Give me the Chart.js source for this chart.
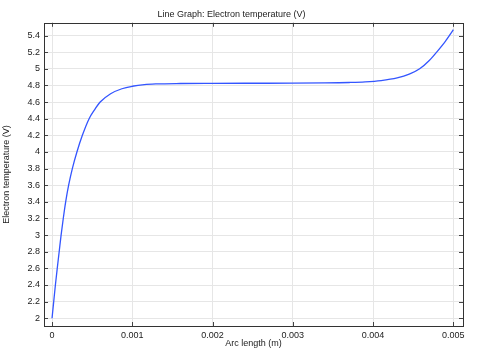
<!DOCTYPE html>
<html>
<head>
<meta charset="utf-8">
<script src="https://cdn.jsdelivr.net/npm/chart.js@4/dist/chart.umd.min.js"></script>
<style>
  html, body { margin: 0; padding: 0; background: #fff; }
  #wrap { width: 485px; height: 352px; }
</style>
</head>
<body>
<div id="wrap"><canvas id="grafico"></canvas></div>
<script>
// valores
const arcLength = [0, 0.000021, 0.000042, 0.000065, 0.000089, 0.000113, 0.00014, 0.00017,
  0.000207, 0.000253, 0.00031, 0.000378, 0.000462, 0.000525, 0.0006, 0.00073, 0.00087,
  0.001, 0.00115, 0.0013, 0.0016, 0.002, 0.0025, 0.003, 0.0034, 0.0037, 0.0039, 0.0041,
  0.0043, 0.00445, 0.00458, 0.0047, 0.0048, 0.0049, 0.005];
const electronTemp = [2.0, 2.2, 2.4, 2.6, 2.8, 3.0, 3.2, 3.4, 3.6, 3.8, 4.0, 4.2, 4.4,
  4.5, 4.6, 4.7, 4.76, 4.79, 4.81, 4.818, 4.823, 4.825, 4.826, 4.827, 4.83, 4.835, 4.842,
  4.858, 4.89, 4.935, 5.0, 5.1, 5.21, 5.33, 5.47];
const xTicks = [0, 0.001, 0.002, 0.003, 0.004, 0.005];
const yTicks = [2, 2.2, 2.4, 2.6, 2.8, 3, 3.2, 3.4, 3.6, 3.8, 4, 4.2, 4.4, 4.6, 4.8, 5, 5.2, 5.4];

const fuente = { family: "'Liberation Sans', Arial, sans-serif", size: 9, weight: "normal" };

// marco y marcas hacia dentro
const marco = {
  id: "marco",
  afterDraw(chart) {
    const { ctx, chartArea: a, scales } = chart;
    ctx.save();
    ctx.strokeStyle = "#444";
    ctx.lineWidth = 1;
    ctx.beginPath();
    xTicks.forEach((v) => {
      const x = Math.round(scales.x.getPixelForValue(v)) + 0.5;
      ctx.moveTo(x, a.bottom); ctx.lineTo(x, a.bottom - 4);
      ctx.moveTo(x, a.top); ctx.lineTo(x, a.top + 4);
    });
    yTicks.forEach((v) => {
      const y = Math.round(scales.y.getPixelForValue(v)) + 0.5;
      ctx.moveTo(a.left, y); ctx.lineTo(a.left + 4, y);
      ctx.moveTo(a.right, y); ctx.lineTo(a.right - 4, y);
    });
    ctx.stroke();
    ctx.strokeStyle = "#333";
    ctx.strokeRect(Math.round(a.left) + 0.5, Math.round(a.top) + 0.5,
      Math.round(a.right - a.left), Math.round(a.bottom - a.top));
    ctx.restore();
  },
};

const ctx = document.getElementById("grafico").getContext("2d");
new Chart(ctx, {
  type: "line",
  data: {
    datasets: [{
      data: arcLength.map((x, i) => ({ x: x, y: electronTemp[i] })),
      borderColor: "#3355ff",
      borderWidth: 1.3,
      pointRadius: 0,
      fill: false,
      cubicInterpolationMode: "monotone",
    }],
  },
  options: {
    responsive: true,
    maintainAspectRatio: false,
    animation: false,
    layout: { padding: { left: 0, right: 22, top: 0, bottom: 0 } },
    plugins: {
      legend: { display: false },
      tooltip: { enabled: false },
      title: {
        display: true,
        text: "Line Graph: Electron temperature (V)",
        color: "#222",
        font: fuente,
        padding: { top: 9, bottom: 3 },
      },
    },
    scales: {
      x: {
        type: "linear",
        min: -0.0001,
        max: 0.00512,
        afterBuildTicks: (s) => { s.ticks = xTicks.map((v) => ({ value: v })); },
        afterFit: (s) => { s.height = 26; },
        grid: { color: "#e6e6e6", tickLength: 0, drawTicks: false },
        border: { display: false },
        ticks: {
          color: "#222",
          font: fuente,
          padding: 4,
          maxRotation: 0,
          callback: (v) => String(Math.round(v * 10000) / 10000),
        },
        title: {
          display: true,
          text: "Arc length (m)",
          color: "#222",
          font: fuente,
          padding: { top: 0, bottom: 3 },
        },
      },
      y: {
        min: 1.907,
        max: 5.553,
        afterBuildTicks: (s) => { s.ticks = yTicks.map((v) => ({ value: v })); },
        afterFit: (s) => { s.width = 44; },
        grid: { color: "#e6e6e6", tickLength: 0, drawTicks: false },
        border: { display: false },
        ticks: {
          color: "#222",
          font: fuente,
          padding: 4,
          callback: (v) => String(Math.round(v * 10) / 10),
        },
        title: {
          display: true,
          text: "Electron temperature (V)",
          color: "#222",
          font: fuente,
          padding: { top: 1, bottom: 0 },
        },
      },
    },
  },
  plugins: [marco],
});
</script>
</body>
</html>
